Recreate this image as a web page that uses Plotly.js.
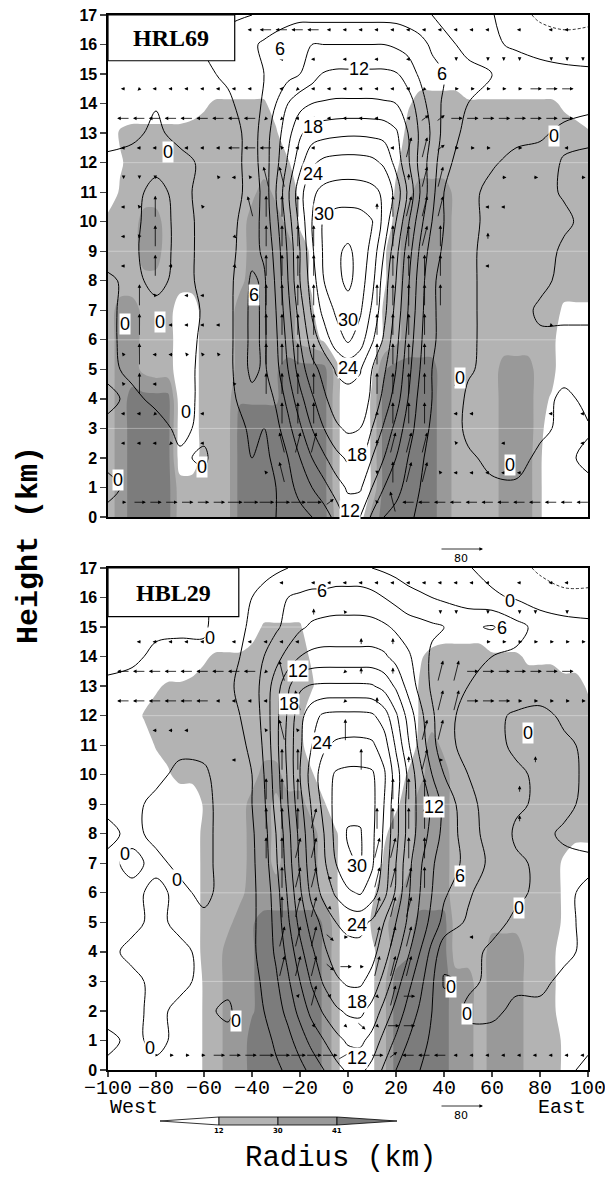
<!DOCTYPE html>
<html><head><meta charset="utf-8">
<script src="https://cdn.plot.ly/plotly-3.0.1.min.js"></script>
<style>html,body{margin:0;padding:0;background:#fff}#chart{width:605px;height:1177px}</style>
</head><body><div id="chart"></div>
<script>
// ===================== DATA =====================
const shadeX = [-100,-95,-90,-85,-80,-75,-70,-65,-60,-55,-50,-45,-40,-35,-30,-25,-20,-15,-10,-5,0,5,10,15,20,25,30,35,40,45,50,55,60,65,70,75,80,85,90,95,100];
const heights = [0,1,2,3,4,5,6,7,8,9,10,11,12,13,14,15,16,17];
const contourX = [-100,-90,-80,-70,-60,-50,-40,-35,-30,-25,-20,-15,-10,-5,0,5,10,15,20,25,30,35,40,50,60,70,80,90,100];
const arrowX = [-93.5,-86.9,-80.3,-73.7,-67.1,-60.5,-53.9,-47.3,-40.7,-34.1,-27.5,-20.9,-14.3,-7.7,-1.1,5.5,12.1,18.7,25.3,31.9,38.5,45.1,51.7,58.3,64.9,71.5,78.1,84.7,91.3,97.9];
const arrowYTopDown = [16.5,15.5,14.5,13.5,12.5,11.5,10.5,9.5,8.5,7.5,6.5,5.5,4.5,3.5,2.5,1.5,0.5];

// Reflectivity shading: one character per cell = dBZ / 5 (rows 17 km -> 0 km)
const shadeHRL69 = [
"00000000000000000000000000000000000000000",
"00000000000000000000000000000000000000000",
"00000000000000000000000000"+"1111"+"00000000000",
"0000000"+"12"+"33333"+"1"+"0000000000"+"2"+"4444"+"33333333"+"210",
"034444444444443"+"0000000000"+"444444444444444"+"3",
"02"+"4444444444444"+"3"+"00000000"+"2"+"4444444444444444",
"03"+"4444444444"+"57542"+"0000000"+"35"+"777"+"5"+"44444444444",
"444"+"77"+"4444444"+"777"+"5"+"2"+"0000000"+"4"+"7777"+"5"+"44444444444",
"444"+"77"+"4444444"+"7777"+"4"+"2"+"00000"+"2"+"5"+"7777"+"5"+"44444444444",
"444"+"55"+"444444"+"5"+"7777"+"4"+"2"+"00000"+"2"+"5"+"7777"+"5"+"44444444444",
"4"+"7"+"7"+"5"+"44"+"11"+"444"+"7"+"7777"+"5"+"3"+"00000"+"3"+"5"+"7777"+"5"+"4444444"+"4"+"222",
"4"+"7"+"7"+"5"+"44"+"11"+"444"+"7"+"7777"+"5"+"4"+"2"+"0000"+"3"+"5"+"7777"+"5"+"4444444"+"4"+"000",
"4"+"7"+"7"+"5"+"44"+"11"+"44"+"4"+"777"+"8"+"9999"+"4"+"00"+"2"+"8"+"9999"+"7"+"5"+"444"+"777"+"4"+"4"+"000",
"4"+"7"+"9999"+"11"+"44"+"5"+"8888"+"9999"+"4"+"00"+"3"+"9"+"9999"+"7"+"5"+"444"+"777"+"4"+"2"+"000",
"4"+"7"+"9999"+"11"+"44"+"5"+"9999"+"9999"+"4"+"00"+"3"+"9"+"9999"+"7"+"5"+"444"+"777"+"4"+"0"+"000",
"4"+"7"+"9999"+"11"+"44"+"5"+"9999"+"9999"+"4"+"00"+"3"+"9"+"9999"+"7"+"5"+"444"+"777"+"3"+"0"+"000",
"4"+"7"+"9999"+"44"+"44"+"5"+"9999"+"9999"+"4"+"00"+"3"+"9"+"9999"+"7"+"5"+"444"+"777"+"3"+"0"+"000",
"4"+"7"+"9999"+"44"+"44"+"5"+"9999"+"9999"+"5"+"0"+"1"+"7"+"9"+"9999"+"7"+"5"+"444"+"777"+"3"+"0"+"000"
];
const shadeHBL29 = [
"00000000000000000000000000000000000000000",
"00000000000000000000000000000000000000000",
"000000000000"+"1"+"3333"+"00000000000"+"1111"+"000000000",
"00000000"+"2"+"333"+"44444"+"2"+"00000000"+"2"+"44444"+"333"+"222"+"111",
"0000"+"2"+"33"+"4444444444"+"3"+"00000000"+"3"+"4444444444444"+"2",
"000"+"3"+"4444444444444"+"000000000"+"3"+"44444444444444",
"0000"+"3"+"444444444444"+"000000000"+"4"+"7"+"5"+"444444444444",
"00000"+"2"+"4444444"+"77"+"44"+"3"+"0000000"+"3"+"5"+"77"+"444444444444",
"00000000"+"3"+"444"+"77"+"5"+"77"+"4"+"3"+"00000"+"2"+"4"+"777"+"444444444444",
"00000000"+"4"+"444"+"77"+"5"+"777"+"4"+"3"+"000"+"2"+"44"+"777"+"444444444444",
"00000000"+"4"+"444"+"77"+"5"+"777"+"4"+"3"+"000"+"3"+"4"+"5"+"777"+"444444444"+"2"+"00",
"00000000"+"4"+"44"+"5"+"777777"+"5"+"3"+"00"+"2"+"4"+"5"+"7777"+"444444444"+"2"+"00",
"00000000"+"4"+"4"+"5"+"7"+"8"+"99999"+"8"+"4"+"00"+"3"+"5"+"77"+"999"+"4"+"44"+"555"+"444"+"2"+"00",
"00000000"+"4"+"4"+"7"+"7"+"8"+"99999"+"8"+"4"+"00"+"2"+"4"+"7"+"8"+"999"+"4"+"44"+"777"+"5"+"44"+"000",
"00000000"+"3"+"4"+"7"+"7"+"8"+"99999"+"8"+"4"+"00"+"2"+"5"+"9"+"9"+"999"+"7"+"7"+"4"+"777"+"5"+"44"+"000",
"00000000"+"3"+"4"+"7"+"7"+"8"+"99999"+"8"+"4"+"00"+"2"+"5"+"9"+"9"+"999"+"7"+"7"+"4"+"777"+"5"+"44"+"000",
"00000000"+"3"+"4"+"7"+"7"+"9"+"99999"+"8"+"4"+"00"+"2"+"5"+"9"+"9"+"999"+"7"+"7"+"4"+"777"+"5"+"4"+"4"+"2"+"00",
"00000000"+"3"+"4"+"7"+"7"+"9"+"99999"+"8"+"4"+"00"+"2"+"5"+"9"+"9"+"999"+"7"+"7"+"4"+"777"+"5"+"4"+"4"+"2"+"00"
];

// Contoured field (rows 17 km -> 0 km, columns = contourX)
const fieldHRL69 = [
[1,1,1,1.5,2,2.5,3, 3.5,4,4.5,5,5,5,5,5,5,5,5,5,4.5,4,3, 2,1,0.2,-2,-3.5,-4,-4],
[1,1,1.5,2,3,4,5.5, 6.5,7.5,8.5,9,9,9,9,9,9,9,9,8.5,8,7,5.5, 4,2,0.5,-0.5,-1.5,-2,-1.5],
[0.5,1,1.5,2,2.5,3.5,5, 6,7,8,9,10.5,12.3,12.6,12.6,12.6,12.6,12.6,12.3,10.5,8.5,7, 6,4,3,2,1.5,1,0.5],
[0.5,0.5,0.1,1,1.5,2.5,4.5, 6.5,9,12,14,15,15.3,15.5,15.5,15.5,15.5,15.3,15,13.5,10.5,7.5, 5.5,3,2,1.5,1,0.5,0.3],
[0.5,0.3,-0.3,0.5,0.5,1,4.5, 7.5,10.5,14,17.5,19.5,20,20.3,20.5,20.5,20.3,20,18.5,15,11.5,8.5, 5,2,1,0.5,0.2,-0.3,-0.5],
[-0.3,-0.5,-0.3,-0.5,0.3,1,4.5, 7.5,11,15.5,20,23.5,24.8,25.2,25.3,25.2,24.8,23.5,20,15.5,11,7.5, 4,1,0.2,-0.5,-0.5,0.1,0.5],
[-0.5,-0.3,0.3,-0.3,0.3,1.5,4, 7,12,17.5,23,26.5,27.8,28.2,28.3,28.2,27.8,26.5,23,17.5,12,7, 3,0.5,-0.5,-0.5,-0.3,0.1,0.3],
[-0.5,-0.3,0.5,-0.3,0.2,2,4.5, 7,11,16.5,22,27,30.5,31.5,31.6,31.3,30.2,26,21,15.5,10,6, 3,0.5,-0.5,-0.5,-0.5,-0.2,0.3],
[-0.5,-0.2,0.5,-0.3,0.2,2,5, 6.5,10,15.5,21,26.5,30.5,32.5,33.5,32,29,24,19,13.5,8.5,4.5, 2.5,0.3,-0.5,-0.5,-0.5,0.2,0.5],
[0.2,-0.3,0.3,-0.3,0.2,2,6.5, 5.5,9.5,15,21,25.5,30,32,33.8,31.5,28,22.5,18,12.5,7.5,3.5, 2,0.3,-0.5,-0.5,-0.3,0.3,0.5],
[0.3,-0.5,-0.3,-0.5,0.1,2,6.8, 5.5,9,14,19.5,24.5,28,30.5,31.5,30.5,26.5,22,17,12,7,3.5, 2,0.3,-0.5,-0.5,0.2,0.5,0.5],
[0.3,-0.5,-0.5,-0.5,0.2,2,6.8, 5.5,8.5,13,18,22.5,25.5,28.5,30.5,28.5,24.5,20.5,16,11,6.5,3.5, 2,0.3,-0.5,-0.5,-0.2,-0.5,-0.5],
[0.3,-0.3,-0.5,-0.5,0.3,2,6.8, 5.5,8,12,16.5,20,22,24.3,25,24.3,21,18.5,15,10,6,3, 1.5,0.2,-0.5,-0.5,-0.5,-0.5,-0.3],
[-0.3,0.3,-0.3,-0.5,0.3,2,5, 4,6.5,10,14,17.5,20.5,22.5,23,22.5,20.5,17,13.5,9,5,3, 1.5,-0.3,-0.5,-0.5,-0.5,0.3,-0.3],
[0.3,0.5,0.5,-0.3,0.3,1.5,3.5, 3,5,8,11.5,15,18,20.5,21.5,21,18,14.5,11,7.5,4.5,2.5, 1,-0.3,-0.3,-0.5,-0.3,0.3,0.1],
[0.3,0.5,0.3,0.2,-0.2,1,3, 2.5,3.5,6,9,12,14.5,17,18.5,18.3,15,12,9,6,3.5,2, 1,0.2,-0.3,-0.5,0.3,0.2,-0.2],
[-0.3,0.3,0.3,0.3,0.5,1,2.5, 2,3,5,7,9,11,13.5,15.5,15.5,12,9,7,5,3,2, 1,0.3,0.2,0.2,0.2,0.2,0.2],
[0.3,0.5,0.8,0.3,0.5,1,2, 2,3,4,5,6,7.5,10,13,12,8.5,6,5,3.5,2.5,2, 1,0.5,0.3,0.3,0.3,0.3,0.3]
];
const fieldHBL29 = [
[-1,-1,-1,-1,-0.5,0.5,1.5, 2,2.5,3,3.5,3.5,3.5,3.5,3.5,3.5,3,2.5,2,1.5,1,0.5, 0.5,0.2,-1,-2,-3.5,-4,-4],
[-1,-1,-1,-0.8,-0.3,1,3, 4,5,6,6.5,7,7,7.5,7.5,7.5,7,6,5,4,3.5,3, 2.5,1.5,0.5,-0.3,-1.5,-2.5,-2.5],
[-0.5,-0.5,-0.3,-0.3,-0.3,1.5,3.5, 4.5,5.5,7,8.5,9.5,10,10,10,10,10,9.5,8.5,7.5,7,6.5, 6,5.5,6.3,4,2,1.5,1],
[-0.5,-0.3,0.3,0.5,0.5,2,4, 6,8,10,12,12.8,13,13,13,13,13,12.5,11,9.5,7.5,5.5, 4.5,3.5,3,2.5,2,1.5,1],
[0.3,0.5,0.8,1,1.5,2.5,4.5, 7,10.5,14.5,17.5,18.3,18.5,18.5,18.5,18.5,18.3,17,14.5,11,8,5.5, 4,3,2,1.5,1,0.8,0.5],
[0.5,0.8,1,1,1.5,2,4, 7,11,15.5,20,23,24.5,24.8,24.8,24.8,24.5,22.5,18.5,14,10,6.5, 4,2,0.5,-0.3,-0.5,0.3,0.5],
[0.5,0.8,0.5,0.3,0.5,1.5,3.5, 6.5,11,16,20.5,24,26.5,27.5,27.8,27.8,27.5,25.5,20.5,15.5,11,7, 4,2,0.5,-0.3,-0.5,-0.3,0.3],
[0.5,0.5,0.3,-0.3,-0.3,1,3, 6,10.5,15.5,21,25.5,28.5,30.4,30.8,30.8,30.5,27.5,22.5,17.5,13,9, 6,3,1,0.3,-0.3,-0.5,0.3],
[0.3,0.3,-0.3,-0.3,-0.3,0.5,3, 5.5,10,15,20,24.5,28,31,32,32,31,27,22,17,14,11.5, 8,4,1.5,0.3,-0.3,-0.5,0.5],
[-0.3,0.3,-0.3,-0.3,-0.3,0.5,2.6, 4.8,9,14,19,23.5,27,31,33.3,33.3,30.8,26.5,22,17,13.8,11, 8,4.5,1.5,-0.3,-0.5,0.3,0.5],
[0.3,-0.3,0.3,-0.3,-0.3,0.5,2.5, 4.5,8.5,13.5,18.5,23,26.5,30,32.5,33.2,30.5,26,21,16,12.5,9.5, 7,5.5,2,0.3,-0.3,-0.5,-0.3],
[0.5,0.3,-0.3,0.3,-0.3,0.5,2.5, 4,7.5,12.5,17.5,22,25,27.5,29.5,30.3,28.5,25,20.5,15.5,12,9, 6.5,3.5,1,0.3,-0.3,-0.3,0.3],
[0.5,0.3,-0.3,0.3,0.3,0.8,2.5, 4,7,11.5,16,19.5,22,24,24.8,25,23.5,21,18,14.5,11,8, 5,2.5,0.5,-0.3,-0.5,-0.3,0.3],
[0.3,-0.3,-0.5,-0.3,0.3,1,2.5, 4,6.5,10,14,17.5,20.5,22.5,23,23,22,19.5,16,12.5,9,5, 1,0.5,-0.3,-0.3,-0.5,-0.3,0.3],
[0.5,0.3,-0.3,-0.3,0.3,0.5,2, 3.5,5.5,8.5,12,15.5,18.5,20.5,21.5,21.5,20,17,13.5,10,7,3.5, -0.3,0.3,-0.3,-0.3,-0.3,0.3,0.3],
[0.5,0.3,-0.3,0.3,0.3,-0.3,1.5, 3,4.5,7,10,13,15.5,17.5,18.5,18.7,17,14,11,8,5.5,3, 1,-0.3,-0.3,0.3,0.3,0.3,0.3],
[-0.3,0.3,-0.3,0.3,0.5,0.5,1, 2,3.5,5,7.5,10,12,14,15.5,15.7,14,11,8.5,6,4,2.5, 1.5,0.5,0.5,0.5,0.3,0.3,0.3],
[0.3,0.3,0.3,0.5,0.5,0.5,1, 1.5,2.5,3.5,5,7,9,11,12.5,12.8,11,8.5,6,4.5,3,2, 1.5,1,0.5,0.5,0.3,0.3,-0.3]
];

// Wind vectors: one code per grid point (rows 16.5 km -> 0.5 km), ' ' = hidden behind label box
const vectorCodes = { // [radial, vertical] in plotting units (80 = key arrow)
  '.':[-4,0], ',':[4,0], 'l':[-10,0], 'L':[-24,0], 'r':[10,0], 'R':[24,0], 'S':[30,0],
  'd':[0,-6], 'u':[0,14], 'U':[0,42], 'a':[-6,8], 'A':[-10,40], 'b':[6,8], 'B':[10,40],
  'e':[-7,-7], 'f':[7,-7], 'F':[16,-14], 'p':[16,12], 'Q':[28,16]
};
const vecHRL69 = [
"        lLLLLlllllllllll.l.ll.",
"        ..l.l.l.l.l..d.ddd.ddd",
"le"+"lllllll"+"."+"le"+"lllllll"+"e."+"rrrrr"+"RRRR",
"LLLLLLLLL"+"ee"+"llllll"+"."+"bpp"+"RRRRRRRRR",
"lllllll"+"LLL"+"a"+"ll"+"...."+"l"+"BBp"+"rrr"+"."+"r"+".."+"l"+".",
"ddd"+"..."+"ala"+"AA"+"......."+"uBB"+"..."+"r.r..r",
"laU..a..AUUU....uUBBB..ll.....",
"laU....f.UUUU....UUBU..u......",
"l.Ul...f.UUUU....UUUU..l......",
".Ua.ll...UUUU...UUUUU.........",
".U.llll..UUUU...UUUU.......e..",
"aUllaaa..UUUU...UUUU..........",
"aUl....a.UUUU...UUUU.e........",
"lle..l....UUU...eUUU.ll....l.l",
"llle.l....ABB...uBBB.a..l....l",
".....l...aA.....dUBBalllll....",
"rRRRRRRSSSSSSp..aALLLLLLLLLLLL"
];
const vecHBL29 = [
"        ..l.llllllllllll.l.ll.",
"        ..,.u.a..,..dd.d.dd.d.",
"."+"lllll"+"."+"lllll"+"..."+"u.u"+"....."+"rrrrrrr",
"LLLLLLLLL"+"eAa"+".."+"eu.u"+".."+"BB"+"RRRRRRRR",
"LLLLLL"+"lllll"+"A"+".."+"e.u..."+"BB"+"RRR"+"rrrrr",
"..lll....aAa..U....BB.........",
".......l..UU...U..uBr.....u...",
".........UUU.....UUU.....u....",
".........UUUB...UUUU.....u....",
".........UUBB...BBUU..........",
"..........UBBr..BBBU..........",
"..........UBBf..BBB...........",
"..........BBBFr.BBB...l.......",
"..........BBBFRrBBB...........",
"...........bBb.RfBR...........",
"............b.fFfRR...........",
",,rrrrRRRSSSSSQ.RpLLLlllllllll"
];
// Contour labels shown on the figure: [level, radius km, height km]
const labelsHRL69 = [[6,-28.3,15.84],[12,4.4,15.17],[6,39.3,15.0],[18,-14.5,13.22],[0,-74.8,12.35],[0,85.9,12.9],
  [24,-14.5,11.62],[30,-10.1,10.27],[6,-39.2,7.51],[0,-93,6.55],[0,-78.5,6.61],[30,0.1,6.67],[24,0.1,5.03],
  [0,46.6,4.7],[0,-67.6,3.57],[18,3.7,2.1],[0,-61,1.71],[0,67.7,1.77],[0,-95.9,1.26],[12,0.8,0.19]];
const labelsHBL29 = [[6,-10.8,16.23],[0,67.7,15.89],[0,-57.4,14.64],[6,64.1,14.98],[12,-21,13.5],[18,-24.7,12.4],
  [24,-10.8,11.06],[0,75,11.4],[12,35.7,8.9],[0,-93,7.3],[30,3.7,6.9],[0,-71.2,6.45],[6,46.6,6.56],[0,71.3,5.48],
  [24,3.7,4.91],[0,43,2.81],[0,49.5,1.9],[18,3.7,2.3],[0,-46.5,1.67],[0,-82.4,0.76],[12,3.7,0.42]];
const shadeLevels = [12, 30, 41];
const shadeColors = ['#ffffff', '#b3b3b3', '#999999', '#7c7c7c'];
const keySpeed = 80;

// ===================== BUILD =====================
const W = 605, H = 1177, ML = 108, MR = 17, MT = 15, MB = 107;
const plotW = W - ML - MR, plotH = H - MT - MB;
const p1Top = 15, p1Bot = 517, p2Top = 568, p2Bot = 1070;
const fy = py => (H - MB - py) / plotH;
const fx = px => (px - ML) / plotW;
const dom1 = [fy(p1Bot), fy(p1Top)], dom2 = [fy(p2Bot), fy(p2Top)];
const PXKM_X = plotW / 200, PXKM_Y = (p1Bot - p1Top) / 17;
const PX_PER_UNIT = 43 / keySpeed;

function toLevel(d) {
  if (d < shadeLevels[0]) return d / shadeLevels[0];
  if (d < shadeLevels[1]) return 1 + (d - shadeLevels[0]) / (shadeLevels[1] - shadeLevels[0]);
  if (d < shadeLevels[2]) return 2 + (d - shadeLevels[1]) / (shadeLevels[2] - shadeLevels[1]);
  return 3 + (d - shadeLevels[2]) / 11;
}
function shadeZ(rows) {
  return rows.slice().reverse().map(r => {
    r = (r + '0'.repeat(41)).slice(0, 41);
    return r.split('').map(c => toLevel(parseInt(c, 36) * 5));
  });
}
const cs = [[0,shadeColors[0]],[0.25,shadeColors[0]],[0.25,shadeColors[1]],[0.5,shadeColors[1]],
            [0.5,shadeColors[2]],[0.75,shadeColors[2]],[0.75,shadeColors[3]],[1,shadeColors[3]]];

function shadeTrace(rows, xa, ya) {
  return {type:'contour', x: shadeX, y: heights, z: shadeZ(rows), xaxis: xa, yaxis: ya,
    autocontour:false, contours:{start:1, end:3, size:1, coloring:'fill', showlines:false},
    line:{width:0, smoothing:0.9}, colorscale: cs, zmin:0.5, zmax:3.5, showscale:false, hoverinfo:'skip'};
}
function lineTraces(rows, xa, ya) {
  const z = rows.slice().reverse();
  const base = {type:'contour', x: contourX, y: heights, z, xaxis: xa, yaxis: ya, autocontour:false,
    showscale:false, hoverinfo:'skip'};
  return [
    Object.assign({}, base, {contours:{start:0, end:36, size:3, coloring:'none'}, line:{color:'#000', width:1, smoothing:1}}),
    Object.assign({}, base, {contours:{start:-6, end:-3, size:3, coloring:'none'}, line:{color:'#000', width:0.8, dash:'3px,2px', smoothing:1}})
  ];
}
const annotations = [];
function addVectors(rows, xa, ya) {
  rows.forEach((row, r) => {
    const yc = arrowYTopDown[r];
    for (let i = 0; i < arrowX.length; i++) {
      const v = vectorCodes[row[i]];
      if (!v) continue;
      const dx = v[0] * PX_PER_UNIT, dy = v[1] * PX_PER_UNIT;
      annotations.push({xref: xa, yref: ya, x: arrowX[i] + dx / 2 / PXKM_X, y: yc + dy / 2 / PXKM_Y,
        ax: -dx, ay: dy, axref:'pixel', ayref:'pixel', text:'', showarrow:true, arrowhead:2,
        arrowsize:0.9, arrowwidth:0.8, arrowcolor:'#000', standoff:0});
    }
  });
}
addVectors(vecHRL69, 'x', 'y');
addVectors(vecHBL29, 'x2', 'y2');
function addLabels(list, xa, ya) {
  list.forEach(([lv, x, y]) => annotations.push({xref: xa, yref: ya, x, y, text: String(lv), showarrow:false,
    bgcolor:'#fff', borderpad:0, xanchor:'center', yanchor:'middle',
    font:{family:'Liberation Sans', size:18, color:'#000'}}));
}
addLabels(labelsHRL69, 'x', 'y');
addLabels(labelsHBL29, 'x2', 'y2');

// Vector keys
[[549, 558], [1106, 1115]].forEach(([ya, yt]) => {
  annotations.push({xref:'paper', yref:'paper', x: fx(483), y: fy(ya), ax: -keySpeed * PX_PER_UNIT, ay: 0,
    text:'', showarrow:true, arrowhead:2, arrowsize:0.9, arrowwidth:0.8, arrowcolor:'#000', standoff:0});
  annotations.push({xref:'paper', yref:'paper', x: fx(461), y: fy(yt), text: String(keySpeed), showarrow:false,
    font:{family:'DejaVu Sans', size:11, color:'black'}, xanchor:'center', yanchor:'middle'});
});
// Panel labels
annotations.push({xref:'x', yref:'y', x:-73.6, y:16.23, text:'HRL69', showarrow:false,
  font:{family:'Liberation Serif', size:24, color:'#000', weight:'bold'}});
annotations.push({xref:'x2', yref:'y2', x:-72.8, y:16.17, text:'HBL29', showarrow:false,
  font:{family:'Liberation Serif', size:24, color:'#000', weight:'bold'}});
// West / East
annotations.push({xref:'x2', yref:'paper', x:-100, y: fy(1107), text:'West', showarrow:false, xanchor:'left', yanchor:'middle',
  font:{family:'Liberation Mono', size:20, color:'#000'}});
annotations.push({xref:'x2', yref:'paper', x:100, y: fy(1107), text:'East', showarrow:false, xanchor:'right', yanchor:'middle',
  font:{family:'Liberation Mono', size:20, color:'#000'}});
// Axis titles
annotations.push({xref:'paper', yref:'paper', x: fx(340), y: fy(1158), text:'Radius (km)', showarrow:false,
  xanchor:'center', yanchor:'middle', font:{family:'Liberation Mono', size:29, color:'#000'}});
annotations.push({xref:'paper', yref:'paper', x: fx(29), y: fy(545), text:'Height (km)', showarrow:false, textangle:-90,
  xanchor:'center', yanchor:'middle', font:{family:'Liberation Mono', size:30, color:'#000', weight:'bold'}});
// Colour bar labels
const cbX = [160, 219, 278, 337, 397], cbY0 = 1117, cbY1 = 1125;
shadeLevels.forEach((lv, k) => annotations.push({xref:'paper', yref:'paper', x: fx(cbX[k+1]), y: fy(1131),
  text: String(lv), showarrow:false, xanchor:'center', yanchor:'middle',
  font:{family:'DejaVu Sans', size:7, color:'black', weight:'bold'}}));

const shapes = [];
shapes.push({type:'rect', xref:'x', yref:'y', x0:-100, x1:-47.2, y0:15.45, y1:17, fillcolor:'#fff', line:{color:'#000', width:1.2}, layer:'above'});
shapes.push({type:'rect', xref:'x2', yref:'y2', x0:-100, x1:-45.5, y0:15.35, y1:17, fillcolor:'#fff', line:{color:'#000', width:1.2}, layer:'above'});
[3,6,9,12,15].forEach(h => {
  shapes.push({type:'line', xref:'x', yref:'y', x0:-100, x1:100, y0:h, y1:h, line:{color:'rgba(255,255,255,0.35)', width:1}, layer:'above'});
  shapes.push({type:'line', xref:'x2', yref:'y2', x0:-100, x1:100, y0:h, y1:h, line:{color:'rgba(255,255,255,0.35)', width:1}, layer:'above'});
});
const cym = (cbY0 + cbY1) / 2;
const P = (px, py) => fx(px) + ',' + fy(py);
shapes.push({type:'path', xref:'paper', yref:'paper', path:'M'+P(cbX[0],cym)+'L'+P(cbX[1],cbY0)+'L'+P(cbX[1],cbY1)+'Z', fillcolor:shadeColors[0], line:{color:'#000', width:0.8}});
shapes.push({type:'rect', xref:'paper', yref:'paper', x0:fx(cbX[1]), x1:fx(cbX[2]), y0:fy(cbY1), y1:fy(cbY0), fillcolor:shadeColors[1], line:{color:'#000', width:0.8}});
shapes.push({type:'rect', xref:'paper', yref:'paper', x0:fx(cbX[2]), x1:fx(cbX[3]), y0:fy(cbY1), y1:fy(cbY0), fillcolor:shadeColors[2], line:{color:'#000', width:0.8}});
shapes.push({type:'path', xref:'paper', yref:'paper', path:'M'+P(cbX[3],cbY0)+'L'+P(cbX[4],cym)+'L'+P(cbX[3],cbY1)+'Z', fillcolor:shadeColors[3], line:{color:'#000', width:0.8}});

const yax = (dom, anchor) => ({domain: dom, anchor, range:[0,17], dtick:1, tick0:0, ticks:'outside', ticklen:6, tickwidth:1.3,
  showline:true, linewidth:1.6, linecolor:'#000', mirror:true, showgrid:false, zeroline:false,
  tickfont:{family:'Liberation Sans', size:16, color:'#000', weight:'bold'}});
const layout = {
  width: W, height: H, margin:{l:ML, r:MR, t:MT, b:MB}, paper_bgcolor:'#fff', plot_bgcolor:'#fff', showlegend:false,
  xaxis:{anchor:'y', range:[-100,100], showticklabels:false, ticks:'', showline:true, linewidth:1.6, linecolor:'#000', mirror:true, showgrid:false, zeroline:false},
  xaxis2:{anchor:'y2', range:[-100,100], tick0:-100, dtick:20, ticks:'outside', ticklen:5, tickwidth:1.3, ticklabelstandoff:-7,
    ticklabeloverflow:'allow', showline:true, linewidth:1.6, linecolor:'#000', mirror:true,
    showgrid:false, zeroline:false, tickfont:{family:'Liberation Mono', size:20, color:'#000'}},
  yaxis: yax(dom1, 'x'),
  yaxis2: yax(dom2, 'x2'),
  shapes, annotations
};
const data = [shadeTrace(shadeHRL69, 'x', 'y'), ...lineTraces(fieldHRL69, 'x', 'y'),
              shadeTrace(shadeHBL29, 'x2', 'y2'), ...lineTraces(fieldHBL29, 'x2', 'y2')];
Plotly.newPlot('chart', data, layout, {staticPlot:true});
</script></body></html>
